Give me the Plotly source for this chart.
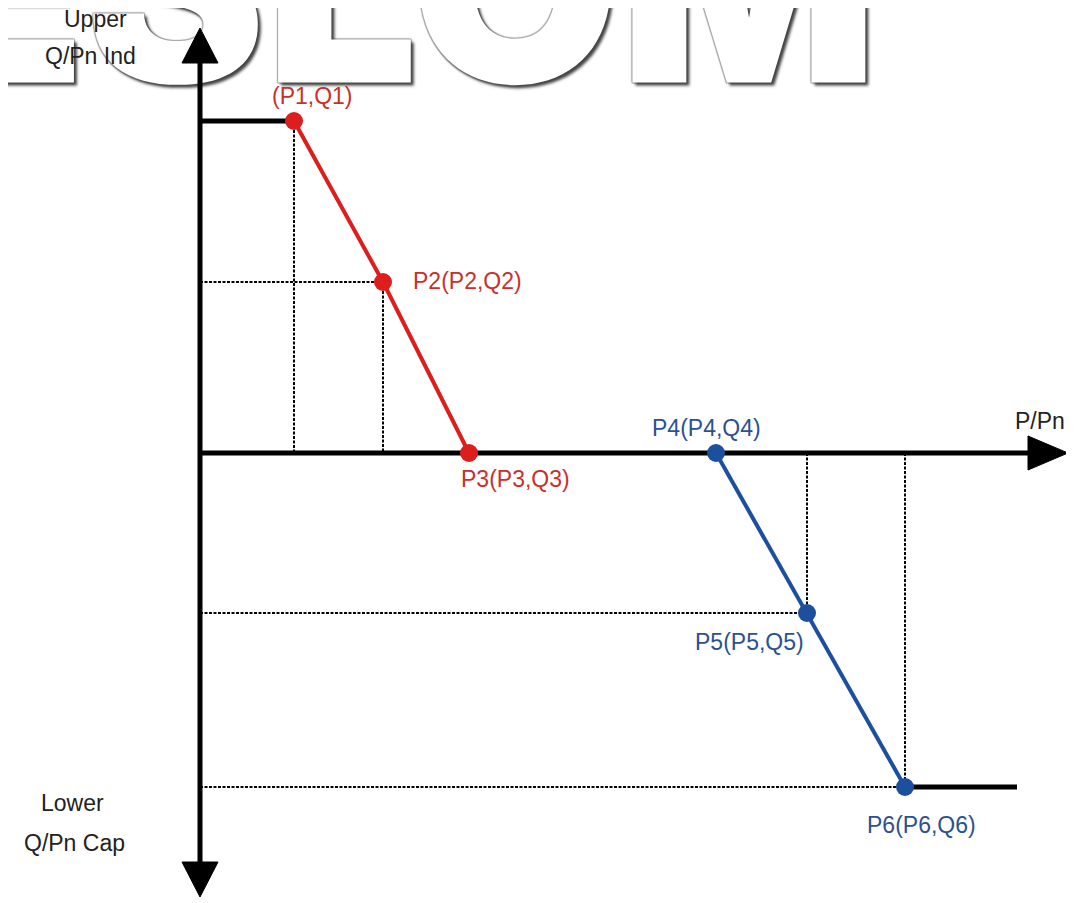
import plotly.graph_objects as go

# characteristic curve points (normalised units)
p_red = [0.94, 1.83, 2.69]
q_red = [3.32, 1.71, 0.0]
p_blue = [5.16, 6.07, 7.05]
q_blue = [0.0, -1.60, -3.34]
red_labels = ["(P1,Q1)", "P2(P2,Q2)", "P3(P3,Q3)"]
blue_labels = ["P4(P4,Q4)", "P5(P5,Q5)", "P6(P6,Q6)"]

# axis extents
x_end = 8.68
y_top = 4.25
y_bottom = -4.44
flat_end = 8.17

RED = "#dc1f1c"
BLUE = "#1d4f9f"
RED_TXT = "#c8302b"
BLUE_TXT = "#2b5190"
FONT = "Liberation Sans, Arial, sans-serif"

fig = go.Figure()

# watermark behind everything
fig.add_trace(go.Scatter(
    x=[6.78], y=[4.38], mode="text", text=["ESLOM"],
    textposition="middle left", cliponaxis=False, hoverinfo="skip",
    textfont=dict(family="Inter, Liberation Sans, sans-serif", size=270, color="white", weight=900,
                  shadow="3px 3px 3px #444, -1px -1px 1px #aaa, 1px -1px 1px #aaa, -1px 1px 1px #aaa, 1px 1px 1px #999"),
    showlegend=False))

dot = dict(color="black", width=2, dash="3px,1.5px")

def seg(xs, ys, line):
    fig.add_trace(go.Scatter(x=xs, y=ys, mode="lines", line=line,
                             hoverinfo="skip", showlegend=False))

# dotted projections
seg([p_red[0], p_red[0]], [q_red[0], 0], dot)
seg([0, p_red[1]], [q_red[1], q_red[1]], dot)
seg([p_red[1], p_red[1]], [q_red[1], 0], dot)
seg([0, p_blue[1]], [q_blue[1], q_blue[1]], dot)
seg([p_blue[1], p_blue[1]], [0, q_blue[1]], dot)
seg([0, p_blue[2]], [q_blue[2], q_blue[2]], dot)
seg([p_blue[2], p_blue[2]], [0, q_blue[2]], dot)

# axes
axis = dict(color="black", width=5)
seg([0, x_end - 0.3], [0, 0], axis)
seg([0, 0], [y_bottom + 0.3, y_top - 0.3], axis)
seg([0, p_red[0]], [q_red[0], q_red[0]], axis)
seg([p_blue[2], flat_end], [q_blue[2], q_blue[2]], axis)

# arrow heads
for xs, ys in [
    ([x_end, x_end - 0.40, x_end - 0.40, x_end], [0, 0.17, -0.17, 0]),
    ([0, -0.18, 0.18, 0], [y_top, y_top - 0.35, y_top - 0.35, y_top]),
    ([0, -0.18, 0.18, 0], [y_bottom, y_bottom + 0.35, y_bottom + 0.35, y_bottom]),
]:
    fig.add_trace(go.Scatter(x=xs, y=ys, mode="lines", fill="toself",
                             fillcolor="black", line=dict(color="black", width=1),
                             hoverinfo="skip", showlegend=False))

# curves
fig.add_trace(go.Scatter(x=p_red, y=q_red, mode="lines+markers",
                         line=dict(color=RED, width=4),
                         marker=dict(color=RED, size=18), showlegend=False))
fig.add_trace(go.Scatter(x=p_blue, y=q_blue, mode="lines+markers",
                         line=dict(color=BLUE, width=4),
                         marker=dict(color=BLUE, size=18), showlegend=False))

# point labels
red_shift = [(18, 25, "center"), (28, 1, "left"), (46, -26, "center")]
blue_shift = [(-10, 25, "center"), (-58, -29, "center"), (16, -38, "center")]
for xs, ys, labs, shifts, col in [(p_red, q_red, red_labels, red_shift, RED_TXT),
                                  (p_blue, q_blue, blue_labels, blue_shift, BLUE_TXT)]:
    for x, y, t, (dx, dy, anc) in zip(xs, ys, labs, shifts):
        fig.add_annotation(x=x, y=y, text=t, showarrow=False, xanchor=anc,
                           xshift=dx, yshift=dy,
                           font=dict(family=FONT, size=23, color=col))

# axis captions
black = dict(family=FONT, size=23, color="#222")
captions = [("P/Pn", 8.40, 0.32), ("Upper", -1.05, 4.34), ("Q/Pn Ind", -1.10, 3.97),
            ("Lower", -1.28, -3.50), ("Q/Pn Cap", -1.26, -3.90)]
for t, x, y in captions:
    fig.add_annotation(x=x, y=y, text=t, showarrow=False, font=black)

fig.update_xaxes(visible=False, range=[-1.92, 8.82])
fig.update_yaxes(visible=False, range=[-4.58, 4.45])
fig.update_layout(width=1074, height=903, margin=dict(l=0, r=0, t=0, b=0),
                  plot_bgcolor="white", paper_bgcolor="white", showlegend=False)

fig.write_html("out.html")
